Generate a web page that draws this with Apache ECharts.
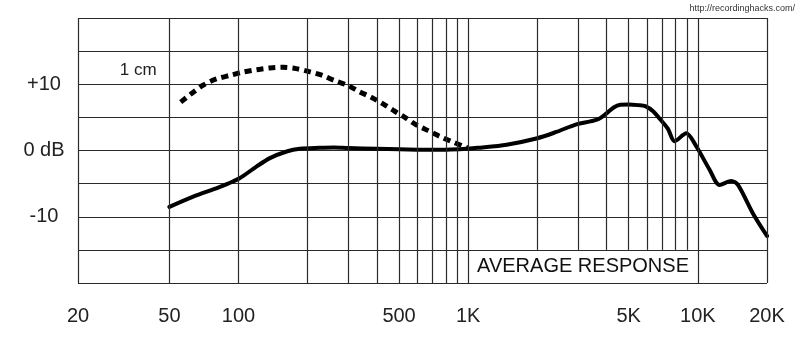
<!DOCTYPE html>
<html>
<head>
<meta charset="utf-8">
<script src="https://cdn.jsdelivr.net/npm/echarts@6/dist/echarts.min.js"></script>
<style>
  html, body { margin: 0; padding: 0; background: #fff; }
  #chart { width: 800px; height: 345px; }
</style>
</head>
<body>
<div id="chart"></div>
<script>
const FONT = '"Liberation Sans", Arial, Helvetica, sans-serif';

// Average response (solid): frequency in Hz, level in dB
const avgFreq = [50, 63.5, 80, 90, 101, 120, 137, 162, 185, 226, 260, 300, 400, 500, 600, 700, 800, 950, 1100,
                 1470, 2000, 2420, 2960, 3400, 3700, 4000, 4300, 4600, 5000, 5500, 5900, 6400, 6820, 7400, 7920,
                 8900, 9850, 11250, 12430, 13990, 14950, 17370, 20000];
const avgDb   = [-8.5, -6.95, -5.7, -5.0, -4.2, -2.4, -1.15, -0.15, 0.26, 0.4, 0.45, 0.37, 0.26, 0.18, 0.12, 0.1, 0.12, 0.22, 0.4,
                 0.87, 1.85, 2.8, 3.95, 4.4, 4.75, 5.6, 6.5, 6.9, 6.95, 6.85, 6.7, 5.9, 4.8, 3.3, 1.4,
                 2.6, 0.6, -2.9, -5.2, -4.6, -5.2, -9.5, -12.9];

// Proximity response at 1 cm (dashed)
const nearFreq = [56, 63.5, 70, 80, 92, 105, 120, 137, 156, 178, 203, 233, 262, 300, 337, 378, 424, 475, 536, 592,
                  669, 752, 845, 960, 1000];
const nearDb   = [7.3, 8.8, 9.85, 10.8, 11.35, 11.86, 12.2, 12.46, 12.56, 12.36, 11.9, 11.3, 10.55, 9.8, 8.85, 8.05, 7.07, 6.0, 4.9, 3.9,
                  3.0, 2.13, 1.37, 0.6, 0.35];

// Axis labelling
const xTickFreq = [20, 50, 100, 500, 1000, 5000, 10000, 20000];
const xTickText = ['20', '50', '100', '500', '1K', '5K', '10K', '20K'];
const gridFreq  = [20, 50, 100, 200, 300, 400, 500, 600, 700, 800, 900, 1000,
                   2000, 3000, 4000, 5000, 6000, 7000, 8000, 9000, 10000, 20000];
const yTickVal  = [10, 0, -10];
const yTickText = ['+10', '0 dB', '-10'];
const boxText   = 'AVERAGE RESPONSE';
const nearText  = '1 cm';
const sourceText = 'http://recordinghacks.com/';

const DB_MIN = -20, DB_MAX = 20, DB_STEP = 5;
const BOX_F0 = 1000, BOX_F1 = 10000, BOX_TOP = -15;

// Vertical grid lines; the ones inside the caption box stop at its top edge
const gridLines = gridFreq.map(f => {
  const bottom = (f > BOX_F0 && f < BOX_F1) ? BOX_TOP : DB_MIN;
  return [{ coord: [f, bottom] }, { coord: [f, DB_MAX] }];
});

// Frequency labels hang below transparent full-height guides
const tickGuides = xTickFreq.map((f, i) => [
  { coord: [f, DB_MIN], label: { show: true, formatter: xTickText[i] } },
  { coord: [f, DB_MAX] }
]);

const chart = echarts.init(document.getElementById('chart'), null, { renderer: 'canvas' });

chart.setOption({
  animation: false,
  backgroundColor: '#fff',
  textStyle: { fontFamily: FONT },
  title: {
    text: sourceText,
    right: 5,
    top: 4,
    padding: 0,
    textStyle: { fontSize: 9, fontWeight: 'normal', color: '#333', fontFamily: FONT }
  },
  grid: { left: 78, right: 33, top: 18, bottom: 62, containLabel: false },
  xAxis: {
    type: 'log',
    logBase: 10,
    min: 20,
    max: 20000,
    axisLine: { show: false },
    axisTick: { show: false },
    axisLabel: { show: false },
    splitLine: { show: false }
  },
  yAxis: {
    type: 'value',
    min: DB_MIN,
    max: DB_MAX,
    interval: DB_STEP,
    axisLine: { show: false },
    axisTick: { show: false },
    splitLine: { show: true, lineStyle: { color: '#2b2b2b', width: 1.2 } },
    axisLabel: {
      fontSize: 20,
      color: '#222',
      fontFamily: FONT,
      align: 'center',
      margin: 34,
      formatter: v => {
        const i = yTickVal.indexOf(v);
        return i >= 0 ? yTickText[i] : '';
      }
    }
  },
  series: [
    {
      name: 'grid',
      type: 'line',
      data: [],
      z: 1,
      silent: true,
      markLine: {
        silent: true,
        symbol: ['none', 'none'],
        animation: false,
        lineStyle: { color: '#2b2b2b', width: 1.2, type: 'solid' },
        emphasis: { disabled: true },
        label: { show: false },
        data: gridLines
      }
    },
    {
      name: 'ticks',
      type: 'line',
      data: [],
      z: 1,
      silent: true,
      markLine: {
        silent: true,
        symbol: ['none', 'none'],
        animation: false,
        lineStyle: { color: 'rgba(0,0,0,0)', width: 1, type: 'solid' },
        emphasis: { disabled: true },
        label: {
          position: 'start',
          distance: 23,
          fontSize: 20,
          color: '#222',
          fontFamily: FONT
        },
        data: tickGuides
      }
    },
    {
      name: 'average',
      type: 'line',
      z: 3,
      smooth: 0.3,
      showSymbol: false,
      symbol: 'none',
      lineStyle: { color: '#000', width: 4, cap: 'round', join: 'round' },
      data: avgFreq.map((f, i) => [f, avgDb[i]]),
      markArea: {
        silent: true,
        itemStyle: { color: 'rgba(255,255,255,0)' },
        label: {
          show: true,
          position: 'inside',
          fontSize: 20,
          color: '#111',
          fontFamily: FONT
        },
        data: [[{ name: boxText, coord: [BOX_F0, DB_MIN] }, { coord: [BOX_F1, BOX_TOP] }]]
      }
    },
    {
      name: 'near',
      type: 'line',
      z: 3,
      smooth: 0.3,
      showSymbol: false,
      symbol: 'none',
      lineStyle: { color: '#000', width: 5, type: [7, 5], cap: 'butt' },
      data: nearFreq.map((f, i) => [f, nearDb[i]]),
      markPoint: {
        silent: true,
        symbol: 'circle',
        symbolSize: 0,
        animation: false,
        label: {
          show: true,
          position: 'left',
          distance: 5,
          offset: [-19, -32],
          fontSize: 17,
          color: '#222',
          fontFamily: FONT,
          formatter: nearText
        },
        data: [{ coord: [nearFreq[0], nearDb[0]] }]
      }
    }
  ]
});
</script>
</body>
</html>
